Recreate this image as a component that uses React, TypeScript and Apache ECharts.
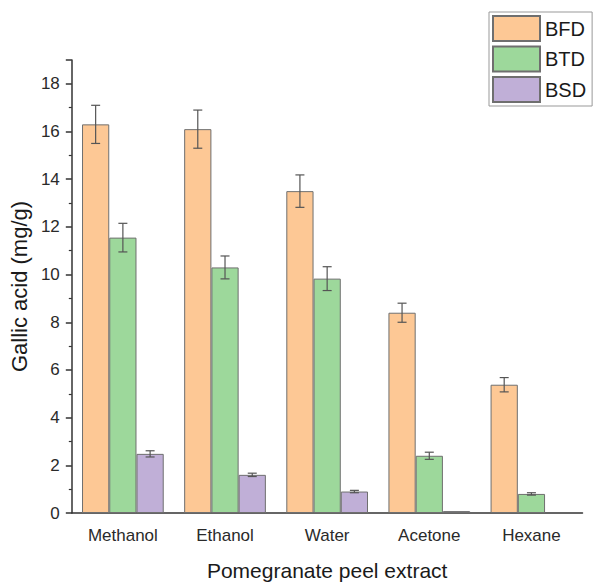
import React, { useEffect, useRef } from "react";
import * as echarts from "echarts";

const categories = ["Methanol", "Ethanol", "Water", "Acetone", "Hexane"];
const seriesNames = ["BFD", "BTD", "BSD"];
const bfd = [16.3, 16.1, 13.5, 8.4, 5.38];
const bfdErr = [0.8, 0.8, 0.68, 0.4, 0.3];
const btd = [11.55, 10.3, 9.83, 2.4, 0.8];
const btdErr = [0.6, 0.48, 0.5, 0.15, 0.05];
const bsd = [2.48, 1.6, 0.9, 0.08, null];
const bsdErr = [0.13, 0.07, 0.05, 0, 0];
const yTicks = { min: 0, max: 19, interval: 2 };
const colors = ["#FDC895", "#9DD89B", "#C0AFD7"];

const FONT = "'Liberation Sans', Arial, sans-serif";

export default function App() {
  const ref = useRef<HTMLDivElement>(null);
  useEffect(() => {
    if (!ref.current) return;
    const chart = echarts.init(ref.current, null, { renderer: "svg" });
    const values = [bfd, btd, bsd];
    const errs = [bfdErr, btdErr, bsdErr];
    const errData: any[] = [];
    values.forEach((arr, k) => {
      arr.forEach((v, i) => {
        if (v != null && errs[k][i] > 0) errData.push([i, v, errs[k][i], k]);
      });
    });
    const barSeries = seriesNames.map((name, k) => ({
      name,
      type: "bar",
      data: values[k],
      barGap: "0%",
      barCategoryGap: "20%",
      itemStyle: { color: colors[k], borderColor: "#6f6f6f", borderWidth: 1 },
    }));
    const option: any = {
      animation: false,
      backgroundColor: "#ffffff",
      textStyle: { fontFamily: FONT },
      grid: { left: 70, right: 10.5, top: 60, bottom: 71 },
      legend: {
        data: seriesNames,
        orient: "vertical",
        left: 489,
        top: 12,
        padding: [3, 6, 3, 3],
        borderColor: "#999",
        borderWidth: 1,
        itemWidth: 47,
        itemHeight: 25,
        itemGap: 3.5,
        icon: "rect",
        textStyle: { fontSize: 20, color: "#1a1a1a", fontFamily: FONT },
      },
      xAxis: [
        {
          type: "category",
          data: categories,
          name: "Pomegranate peel extract",
          nameLocation: "middle",
          nameGap: 47,
          nameTextStyle: { fontSize: 21, color: "#1a1a1a", fontFamily: FONT },
          axisLine: { lineStyle: { color: "#333", width: 1.5 } },
          axisTick: { alignWithLabel: true, length: 7, lineStyle: { color: "#333", width: 1.5 } },
          axisLabel: { fontSize: 17, color: "#2a2a2a", margin: 14, fontFamily: FONT },
        },
        {
          type: "category",
          data: categories,
          position: "bottom",
          axisLine: { show: false },
          axisTick: { length: 4, lineStyle: { color: "#333", width: 1.2 } },
          axisLabel: { show: false },
        },
      ],
      yAxis: {
        type: "value",
        min: yTicks.min,
        max: yTicks.max,
        interval: yTicks.interval,
        name: "Gallic acid (mg/g)",
        nameLocation: "middle",
        nameGap: 35,
        nameTextStyle: { fontSize: 22, color: "#1a1a1a", fontFamily: FONT },
        axisLine: { show: true, lineStyle: { color: "#333", width: 1.5 } },
        axisTick: { show: true, length: 6, lineStyle: { color: "#333", width: 1.5 } },
        minorTick: { show: true, splitNumber: 2, length: 3, lineStyle: { color: "#333", width: 1.2 } },
        splitLine: { show: false },
        axisLabel: { fontSize: 17, color: "#2a2a2a", margin: 12, showMaxLabel: false, fontFamily: FONT },
      },
      series: [
        ...barSeries,
        {
          type: "custom",
          name: "err",
          data: errData,
          encode: { x: 0, y: 1 },
          z: 10,
          renderItem: (params: any, api: any) => {
            const cat = api.value(0);
            const val = api.value(1);
            const err = api.value(2);
            const k = api.value(3);
            const band = api.size([1, 0])[0];
            const bw = (band * 0.8) / 3;
            const c = api.coord([cat, val]);
            const x = c[0] + (k - 1) * bw;
            const yTop = api.coord([cat, val + err])[1];
            const yBot = api.coord([cat, val - err])[1];
            const cap = 4.5;
            const style = { stroke: "#555", lineWidth: 1.2 };
            return {
              type: "group",
              children: [
                { type: "line", shape: { x1: x, y1: yTop, x2: x, y2: yBot }, style },
                { type: "line", shape: { x1: x - cap, y1: yTop, x2: x + cap, y2: yTop }, style },
                { type: "line", shape: { x1: x - cap, y1: yBot, x2: x + cap, y2: yBot }, style },
              ],
            };
          },
        },
      ],
    };
    chart.setOption(option);
    return () => chart.dispose();
  }, []);
  return (
    <div
      ref={ref}
      style={{ position: "fixed", left: 0, top: 0, width: 593, height: 586, background: "#fff" }}
    />
  );
}
